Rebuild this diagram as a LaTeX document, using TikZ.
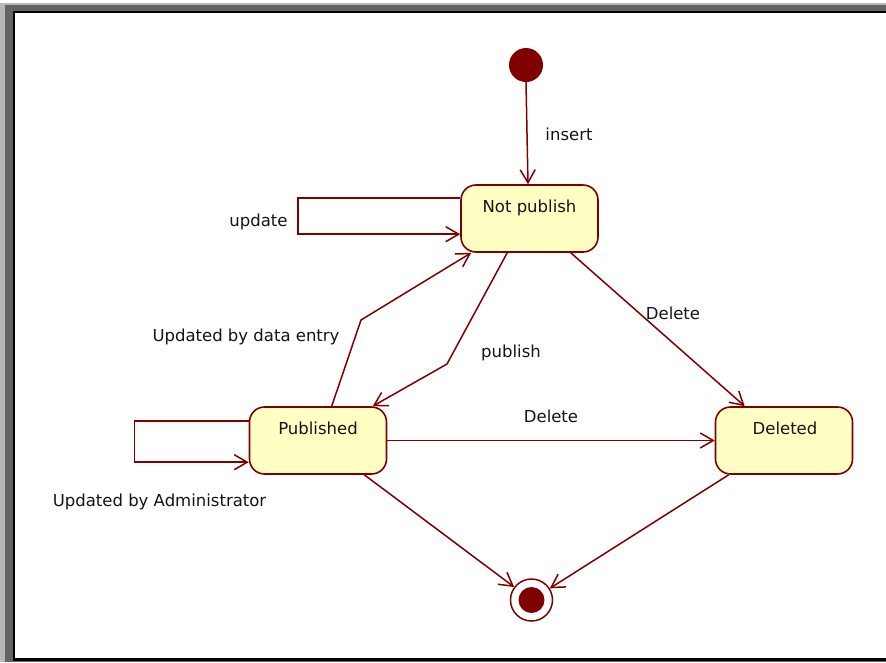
\documentclass[tikz,border=0pt]{standalone}
\usepackage{fontspec}
\setmainfont{DejaVu Sans}
\usetikzlibrary{arrows.meta,calc}
\definecolor{dred}{HTML}{800000}
\definecolor{sfill}{HTML}{FFFFC4}
\definecolor{frlight}{HTML}{B8B8B8}
\definecolor{frdark}{HTML}{646464}
\begin{document}
\begin{tikzpicture}[x=1pt,y=-1pt,
  state/.style={draw=dred, fill=sfill, line width=1.6pt, rounded corners=15pt,
    minimum width=137pt, minimum height=67pt, inner sep=0pt},
  lbl/.style={font=\fontsize{16.5}{20}\selectfont, text=black!92, inner sep=0pt, anchor=base},
  tr/.style={draw=dred, line width=1.5pt,
    -{Straight Barb[length=13pt,width=15pt,line width=1.5pt]}}]
\useasboundingbox (0,0) rectangle (886,662);
% frame
\fill[frlight] (0,3) rectangle (886,662);
\fill[frdark] (5,5) rectangle (886,662);
\fill[black] (13,11) rectangle (886,661);
\fill[white] (15,13) rectangle (886,658);

% states
\node[state] (np) at (529.5,218.5) {};
\node[state] (pub) at (318,440.5) {};
\node[state] (del) at (784,440.5) {};
\node[lbl] (npt) at (529.5,212) {Not publish};
\node[lbl] (pubt) at (318,434) {Published};
\node[lbl] (delt) at (785,434) {Deleted};

% initial and final
\node[circle, fill=dred, minimum size=34pt, inner sep=0pt] (init) at (526,65) {};
\node[circle, draw=dred, fill=white, line width=1.5pt, minimum size=42pt, inner sep=0pt] (fin) at (531.5,600) {};
\node[circle, fill=dred, minimum size=26pt, inner sep=0pt] (fini) at (fin) {};

% bend points
\coordinate (b1) at (361,320);
\coordinate (b2) at (447,364);

% transitions
\draw[tr] (init.south) -- ([xshift=-1.5pt]np.north);
\node[lbl] (lins) at (569,140) {insert};

\draw[tr] ([yshift=-14pt]np.north west) -- ++(-162,0) -- ++(0,36) -- ([yshift=-50pt]np.north west);
\node[lbl] (lupd) at (258.5,226) {update};

\draw[tr] ([xshift=83pt]pub.north west) -- (b1) -- ([xshift=11pt]np.south west);
\node[lbl] (lude) at (246,341) {Updated by data entry};

\draw[tr] ([xshift=47pt]np.south west) -- (b2) -- ([xshift=124pt]pub.north west);
\node[lbl] (lpub) at (511,357) {publish};

\draw[tr] ([xshift=-28pt]np.south east) -- ([xshift=30pt]del.north west);
\node[lbl] (ldel1) at (673,319) {Delete};

\draw[tr] (pub.east) -- (del.west);
\node[lbl] (ldel2) at (551,422) {Delete};

\draw[tr] ([yshift=-15pt]pub.north west) -- ++(-114,0) -- ++(0,41) -- ([yshift=-56pt]pub.north west);
\node[lbl] (luba) at (159.5,506) {Updated by Administrator};

\draw[tr] ([xshift=-23pt]pub.south east) -- (fin);
\draw[tr] ([xshift=14pt]del.south west) -- (fin);
\end{tikzpicture}
\end{document}
